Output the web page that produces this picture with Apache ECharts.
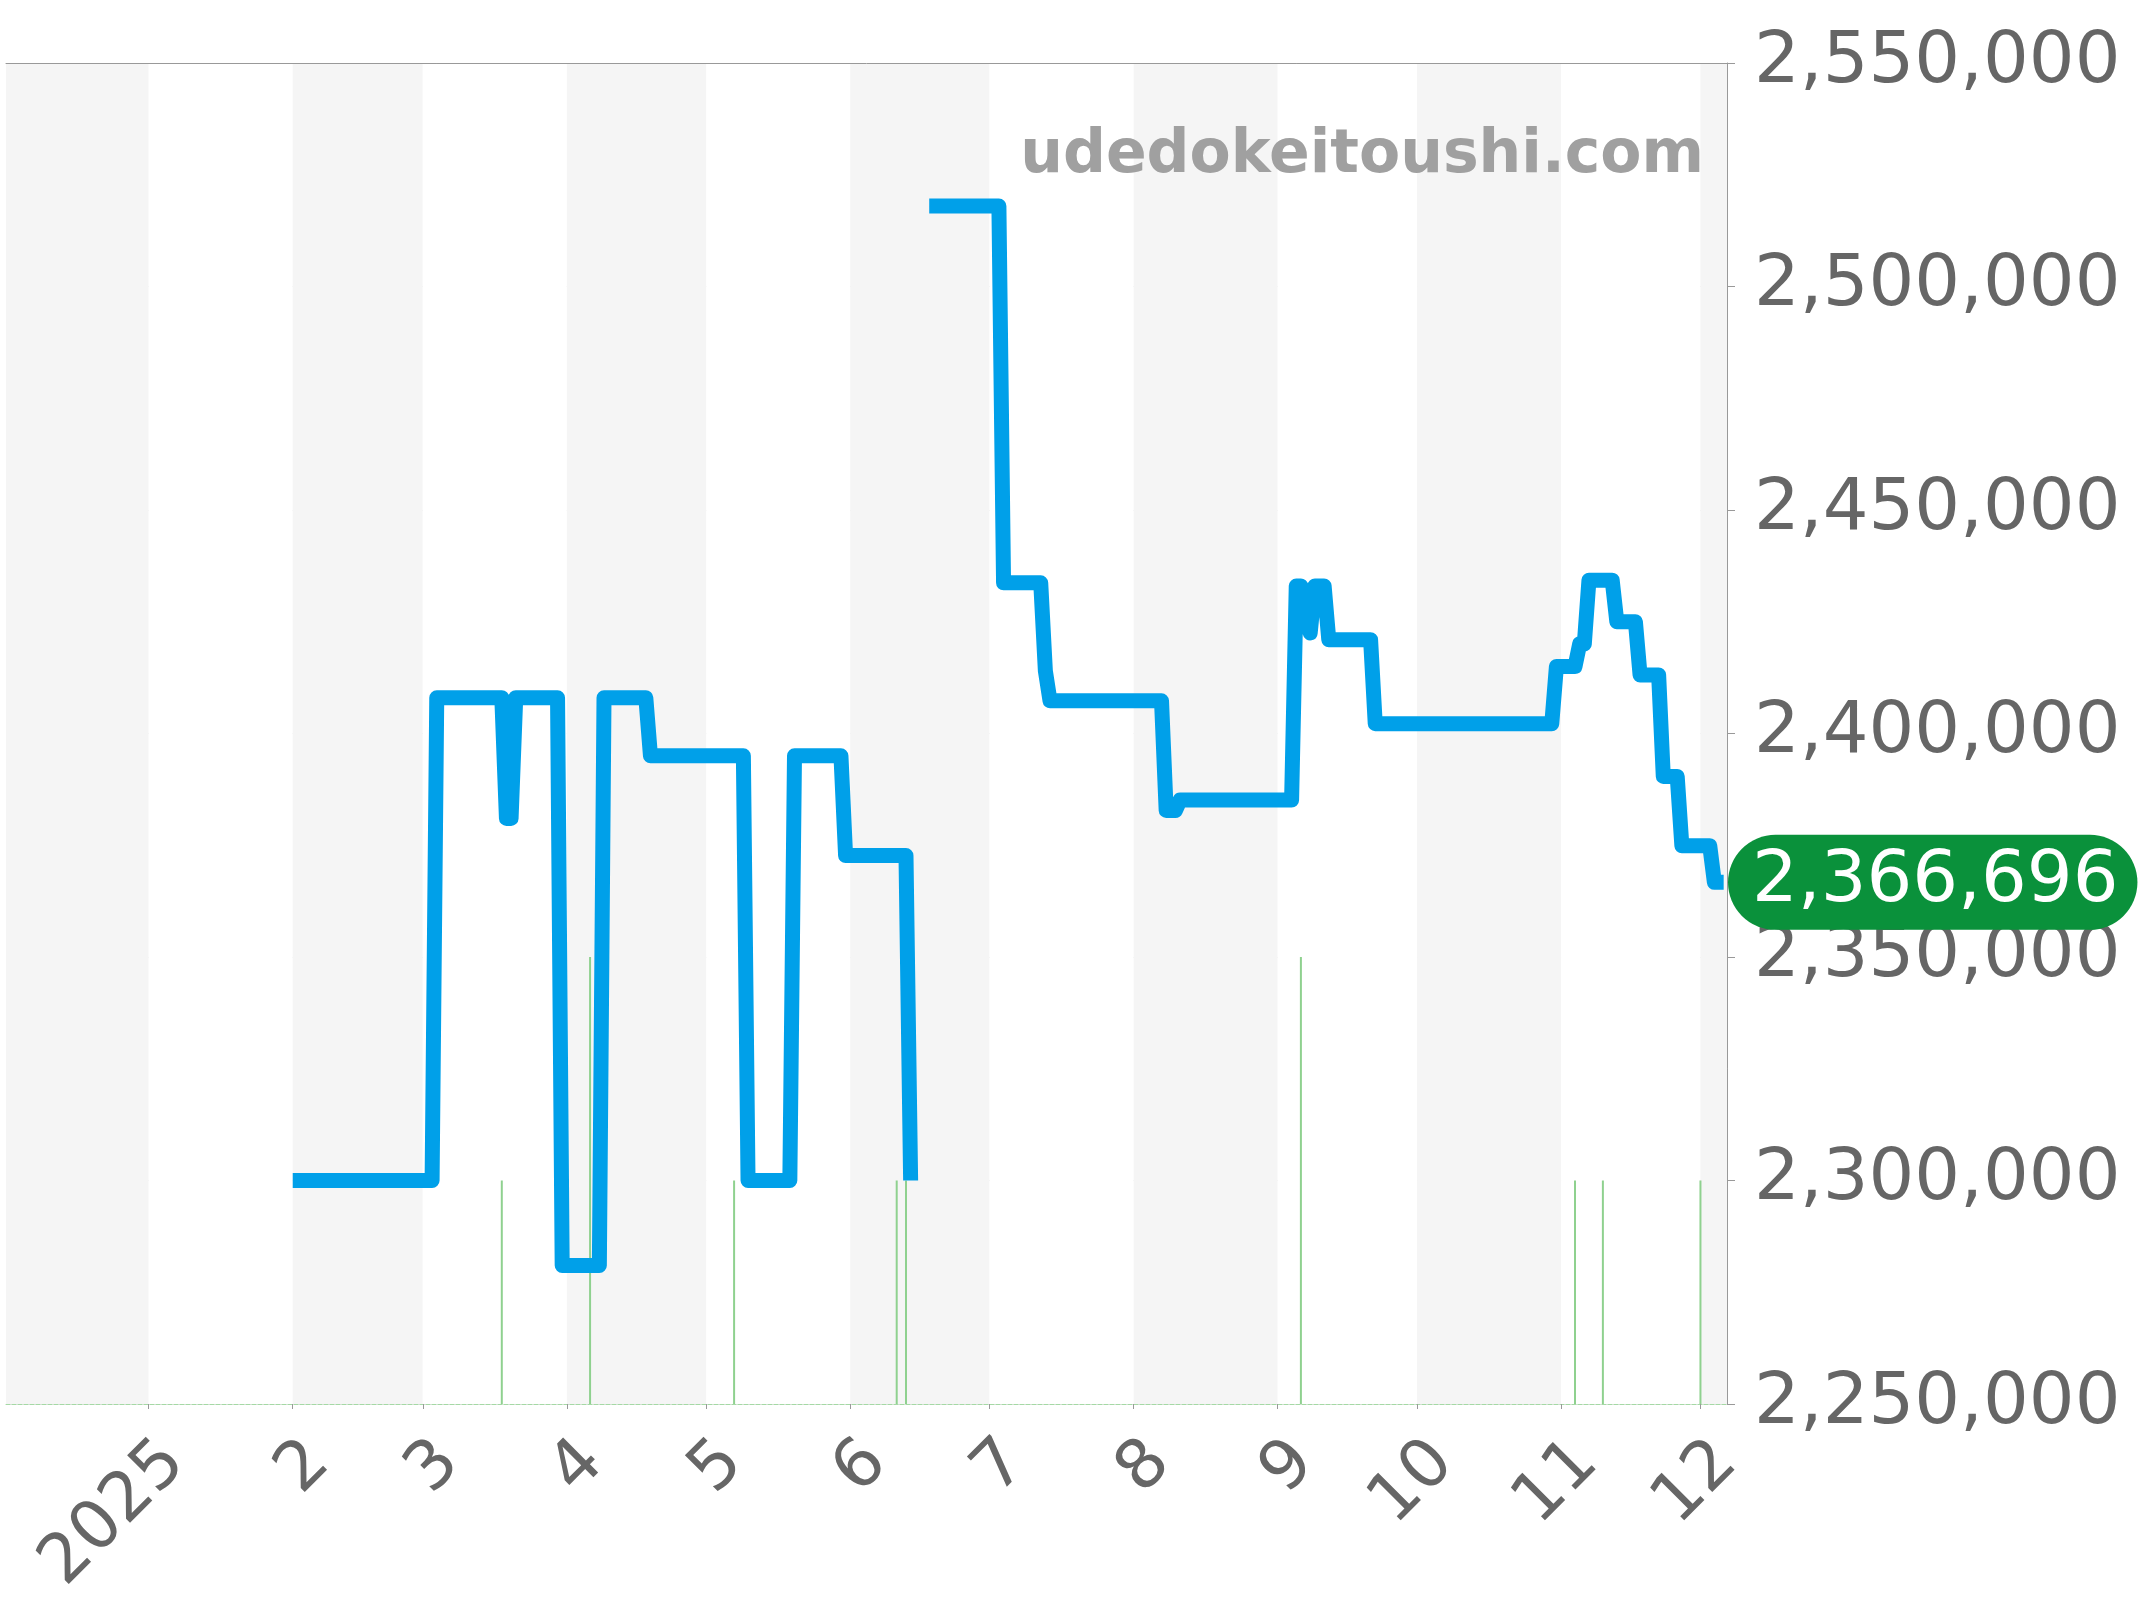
<!DOCTYPE html>
<html>
<head>
<meta charset="utf-8">
<script src="https://cdn.jsdelivr.net/npm/echarts@6/dist/echarts.min.js"></script>
<style>
  html, body { margin: 0; padding: 0; background: #fff; }
  #chart { width: 2144px; height: 1600px; }
</style>
</head>
<body>
<div id="chart"></div>
<script>
// price history (null = no data, breaks the line)
const priceDates = [
  '2025-02-01', '2025-03-03', '2025-03-04', '2025-03-18', '2025-03-19', '2025-03-20',
  '2025-03-21', '2025-03-30', '2025-03-31', '2025-04-08', '2025-04-09', '2025-04-18',
  '2025-04-19', '2025-05-09', '2025-05-10', '2025-05-19', '2025-05-20', '2025-05-30',
  '2025-05-31', '2025-06-13', '2025-06-14', '2025-06-16', '2025-06-18', '2025-07-03',
  '2025-07-04', '2025-07-12', '2025-07-13', '2025-07-14', '2025-08-07', '2025-08-08',
  '2025-08-10', '2025-08-11', '2025-09-04', '2025-09-05', '2025-09-06', '2025-09-08',
  '2025-09-09', '2025-09-11', '2025-09-12', '2025-09-21', '2025-09-22', '2025-10-30',
  '2025-10-31', '2025-11-04', '2025-11-05', '2025-11-06', '2025-11-07', '2025-11-12',
  '2025-11-13', '2025-11-17', '2025-11-18', '2025-11-22', '2025-11-23', '2025-11-26',
  '2025-11-27', '2025-12-03', '2025-12-04', '2025-12-06'
];
const priceValues = [
  2300000, 2300000, 2408000, 2408000, 2381000, 2381000,
  2408000, 2408000, 2281000, 2281000, 2408000, 2408000,
  2395000, 2395000, 2300000, 2300000, 2395000, 2395000,
  2372700, 2372700, 2300000, null, 2518000, 2518000,
  2433700, 2433700, 2414000, 2407300, 2407300, 2382800,
  2382800, 2385100, 2385100, 2433000, 2433000, 2422500,
  2433000, 2433000, 2421000, 2421000, 2402200, 2402200,
  2415000, 2415000, 2420000, 2420000, 2434300, 2434300,
  2425000, 2425000, 2413100, 2413100, 2390400, 2390400,
  2374900, 2374900, 2366696, 2366696
];

// green marks along the bottom
const volumeDates = ['2025-03-18', '2025-04-06', '2025-05-07', '2025-06-11', '2025-06-13',
  '2025-09-06', '2025-11-04', '2025-11-10', '2025-12-01'];
const volumeValues = [1, 2, 1, 1, 1, 2, 1, 1, 1];

const monthLabels = ['2025', '2', '3', '4', '5', '6', '7', '8', '9', '10', '11', '12'];
const yMin = 2250000;
const yMax = 2550000;
const yStep = 50000;
const lastPrice = 2366696;
const siteName = 'udedokeitoushi.com';

const DAY = 86400000;
const xMin = new Date(2024, 11, 1, 12).getTime();
const xMax = new Date(2025, 11, 6, 12).getTime();

const fmt = (v) => Number(v).toLocaleString('en-US');

const chart = echarts.init(document.getElementById('chart'));

chart.setOption({
  animation: false,
  textStyle: { fontFamily: 'DejaVu Sans' },
  grid: { left: 6, right: 417, top: 63, bottom: 196, outerBoundsMode: 'none' },
  xAxis: [
    {
      type: 'time',
      min: xMin,
      max: xMax,
      splitNumber: 12,
      minInterval: 30 * DAY,
      maxInterval: 30 * DAY,
      axisLine: { lineStyle: { color: '#a5d9a5', type: 'dashed' } },
      axisTick: { length: 5, lineStyle: { color: '#999' } },
      axisLabel: {
        fontSize: 68,
        color: '#666',
        rotate: 45,
        margin: 22,
        padding: [75, 0, 0, 0],
        showMinLabel: false,
        showMaxLabel: false,
        formatter: (value) => {
          const d = new Date(value);
          if (d.getDate() !== 1 || d.getHours() !== 0) return '';
          return monthLabels[d.getMonth()];
        },
      },
      splitLine: { show: false },
      splitArea: { show: true, areaStyle: { color: ['#f5f5f5', '#ffffff'] } },
    },
    {
      type: 'time',
      position: 'top',
      min: xMin,
      max: xMax,
      axisLine: { lineStyle: { color: '#999' } },
      axisTick: { show: false },
      axisLabel: { show: false },
      splitLine: { show: false },
    },
  ],
  yAxis: [
    {
      type: 'value',
      position: 'right',
      min: yMin,
      max: yMax,
      interval: yStep,
      axisLine: { show: true, lineStyle: { color: '#999' } },
      axisTick: { show: true, length: 8, lineStyle: { color: '#999' } },
      axisLabel: { fontSize: 72, color: '#666', margin: 27, formatter: fmt },
      splitLine: { lineStyle: { color: '#e6e6e6' } },
    },
    { type: 'value', min: 0, max: 6, show: false, splitLine: { show: false } },
  ],
  graphic: [
    {
      type: 'text',
      right: 440,
      top: 126,
      z: 10,
      style: {
        text: siteName,
        fontSize: 60,
        fontWeight: 'bold',
        fontFamily: 'DejaVu Sans',
        fill: '#a0a0a0',
      },
    },
  ],
  series: [
    {
      type: 'bar',
      yAxisIndex: 1,
      barWidth: 2,
      itemStyle: { color: '#8fd18f' },
      data: volumeDates.map((d, i) => [d, volumeValues[i]]),
      z: 1,
    },
    {
      type: 'line',
      yAxisIndex: 0,
      showSymbol: false,
      symbol: 'none',
      connectNulls: false,
      lineStyle: { width: 15, color: '#00a0e9', cap: 'butt', join: 'round' },
      data: priceDates.map((d, i) => [d, priceValues[i]]),
      z: 3,
      markLine: {
        silent: true,
        symbol: 'none',
        lineStyle: { color: 'transparent', width: 0 },
        data: [{ yAxis: lastPrice }],
        label: {
          show: true,
          position: 'end',
          distance: 1,
          formatter: () => fmt(lastPrice),
          color: '#fff',
          fontSize: 72,
          lineHeight: 73,
          backgroundColor: '#0a913b',
          borderRadius: 48,
          padding: [11, 19, 11, 24],
        },
      },
    },
  ],
});
</script>
</body>
</html>
